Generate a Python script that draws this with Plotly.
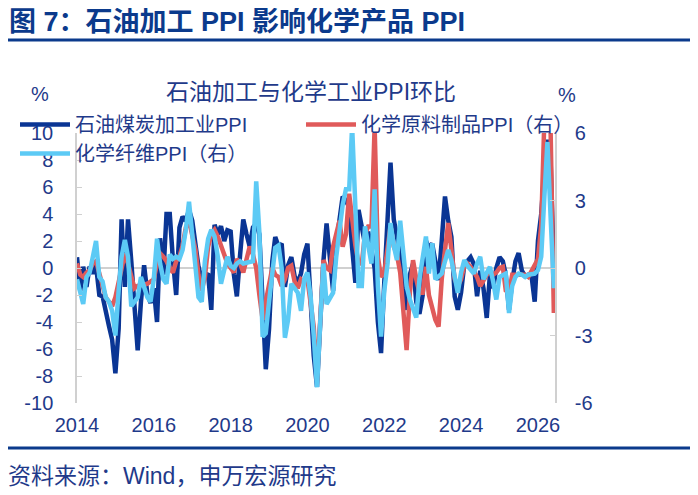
import pandas as pd
import plotly.graph_objects as go

# monthly, Jan 2014 .. Jun 2026
months = pd.date_range("2014-01-01", periods=150, freq="MS")

# 石油煤炭加工业PPI 环比 (%), left axis
petro = [
    0.8, -1.7, 0.1, -1.4, 0.1, -0.4, 0.2, -2.0, -2.1, -3.4, -4.3, -5.3,
    -7.8, -4.5, 3.6, -1.4, 3.6, 0.5, -3.1, -6.1, -2.5, 0.2, -1.9, -2.6,
    -1.5, -4.0, 2.2, -0.5, 4.0, 4.0, 0.6, -2.0, 3.0, 3.8, 3.5, 4.3,
    3.5, 1.5, 0.1, -0.9, -0.4, -0.5, -3.1, 3.2, 2.5, 3.1, 2.0, 2.8,
    2.7, -0.5, -2.1, 1.0, 3.6, 2.5, 1.6, 3.0, 3.3, 2.5, -3.4, -7.5,
    -4.5, 0.5, 2.3, 1.6, 1.8, -1.4, 0.2, 0.8, -0.6, -1.1, -0.4, 1.0,
    1.8, -2.0, -6.5, -8.8, -4.0, 0.5, 3.3, 1.0, -1.7, 1.8, 3.5, 5.3,
    5.0, 4.5, 1.5, -1.1, 4.3, 2.8, 1.8, 2.7, 1.5, 0.0, -4.0, -6.3,
    -1.0, 3.5, 7.8, 3.6, 2.3, 1.0, -1.5, -3.1, -0.5, 0.3, -2.5, -3.4,
    -2.0, 2.0, 1.5, 1.8, 0.5, -0.9, 2.0, 5.3, 3.5, 2.3, -2.1, -3.1,
    -1.8, 0.3, 0.5, 0.8, 0.3, -2.1, -0.2, -1.5, -3.7, -0.5, -1.5, 0.0,
    0.8, 0.5, -0.5, -3.1, -1.0, 0.5, 1.1, -0.2, -0.6, -0.5, -0.6, -2.5,
    2.0, 4.0, 7.0, 9.5, 8.0, 0.0,
]

# 化学原料制品PPI 环比 (%), right axis
chem = [
    0.2, -0.3, -0.4, -0.2, -0.1, 0.2, 0.3, -0.3, -0.8, -1.3, -1.5, -1.7,
    -1.3, -0.7, 0.0, 0.65, 0.2, -0.4, -0.9, -0.8, -0.8, -0.75, -0.7, -0.6,
    -0.5, 0.2, 0.65, 0.5, 0.3, 0.0, -0.2, 0.3, 0.5, 1.0, 1.8, 2.1,
    1.5, 0.8, -0.3, -1.0, -0.4, 0.95, 1.5, 1.7, 1.4, 1.0, 0.6, 0.2,
    0.0, -0.2, 0.4, 0.2, -0.2, 0.5, 0.95, 0.6, 0.0, -1.2, -2.3, -1.5,
    -0.8, 0.0, -0.3, -0.4, -0.8, -0.5, 0.0, 0.1, -0.6, -0.9, -0.5, -0.6,
    -0.5, -1.5, -2.6, -5.0, -2.0, 0.35, 0.0, -0.1, 0.95, 1.5, 2.1, 0.95,
    1.5, 3.3, 2.0, 1.0, 0.2, 0.2, 1.5, 1.85, 1.85, 6.3, 0.5, -0.4,
    -0.2, 1.0, 1.85, 0.95, 0.6, -0.2, -2.0, -3.65, -1.1, 0.35, -0.5, -1.1,
    -1.1, 0.05, -1.2, -1.8, -2.3, -2.6, -0.5, 0.8, 2.0, 0.8, -0.5, -0.8,
    -0.5, 0.1, 0.2, 0.05, -0.2, -0.4, -0.8, -0.5, -0.3, -0.2, -0.3, -0.2,
    0.0, 0.05, -1.0, -1.1, -0.3, -0.3, -0.3, -0.25, -0.3, -0.4, -0.1, 0.2,
    0.4, 1.9, 6.3, 6.8, 6.2, -2.0,
]

# 化学纤维PPI 环比 (%), right axis
fiber = [
    -0.5, -1.0, -1.6, -0.4, -0.2, 0.5, 1.2, -0.4, -0.6, -1.3, -1.5, -1.9,
    -3.0, -1.0, 0.5, 1.25, 0.5, -1.7, -1.5, -1.3, -0.4, -0.9, -1.3, -1.5,
    -0.5, 1.3, 0.2, -0.5, -0.7, 0.6, 0.4, 0.5, 0.4, 0.8, 1.7, 2.95,
    1.5, 0.0, -1.3, -1.5, 0.3, 1.3, 1.7, 1.4, 0.5, -0.7, 0.0, 0.5,
    0.1, 0.0, 0.2, 0.3, 0.2, 0.25, 0.3, 0.3, 3.85, 1.6, -3.05, -2.9,
    -1.5, 0.0, 0.9, 1.0, 0.0, -3.1, -2.3, -0.7, -0.9, -1.1, -1.9, -0.5,
    -0.2, -1.3, -3.0, -5.3, -2.5, 0.2, -1.6, -1.3, -1.1, 0.5, 1.85, 2.8,
    3.5, 3.5, 6.3, 2.1, -0.8, -0.8, 1.85, 1.0, 0.2, 3.5, -0.8, -3.05,
    -1.0, 0.2, 2.0, 1.0, 0.35, 2.1, 0.5, -0.8, -1.4, -1.8, -2.2, -0.5,
    0.5, 1.4, -0.25, 1.1, -0.5, -0.4, -0.25, 0.3, 0.8, 0.35, -0.5, -1.1,
    -0.2, 0.35, 0.1, -0.1, -0.25, 0.2, 0.5, -0.5, -0.2, 0.05, -0.6, -1.4,
    -0.4, -0.3, -0.25, -2.0, -0.8, -0.4, -0.25, -0.3, -0.4, -0.3, -0.25, -0.25,
    -0.1, 0.5, 3.0, 5.6, 2.3, -0.9,
]

left_ticks = list(range(-10, 11, 2))
right_ticks = [-6, -3, 0, 3, 6]
year_ticks = list(range(2014, 2027, 2))

NAVY = "#1f3a8a"
TITLE_BLUE = "#0b3a8c"
FONT = "Liberation Sans, Noto Sans CJK SC, sans-serif"
GRAY = "#d0d0d0"

# the page body has an 8px margin; figure sits at (8, 8)
W, H = 690, 487
PL, PT, PW, PH = 77, 133, 478, 270  # plot area in page pixels


def px(x):
    return (x - PL) / PW


def py(y):
    return (PT + PH - y) / PH


fig = go.Figure()
fig.add_trace(go.Scatter(x=months, y=petro, name="石油煤炭加工业PPI", legend="legend",
                         mode="lines", line=dict(color="#0a3594", width=4.5)))
fig.add_trace(go.Scatter(x=months, y=chem, name="化学原料制品PPI（右）", legend="legend2",
                         mode="lines", yaxis="y2", line=dict(color="#e05a5a", width=4.5)))
fig.add_trace(go.Scatter(x=months, y=fiber, name="化学纤维PPI（右）", legend="legend",
                         mode="lines", yaxis="y2", line=dict(color="#5ccaf5", width=4.5)))

legend_common = dict(orientation="v", xref="container", yref="container",
                     xanchor="left", yanchor="top", tracegroupgap=0,
                     itemwidth=50, bgcolor="rgba(0,0,0,0)",
                     font=dict(size=20, color=NAVY))

fig.update_layout(
    width=W, height=H,
    margin=dict(l=PL - 8, r=W - (PL - 8) - PW, t=PT - 8, b=H - (PT - 8) - PH,
                autoexpand=False),
    paper_bgcolor="white", plot_bgcolor="white",
    font=dict(family=FONT, color=NAVY, size=20),
    showlegend=True,
    legend=dict(x=7 / W, y=1 - 97 / H, **legend_common),
    legend2=dict(x=293 / W, y=1 - 97 / H, **legend_common),
    xaxis=dict(type="date", range=["2014-01-01", "2026-06-12"],
               tickvals=[f"{y}-01-01" for y in year_ticks],
               ticktext=[str(y) for y in year_ticks],
               showgrid=False, zeroline=False, showline=False, ticks="",
               ticklabelstandoff=8, tickfont=dict(size=20, color=NAVY)),
    xaxis2=dict(type="date", overlaying="x", matches="x", anchor="free",
                position=0.5, showticklabels=False, showgrid=False,
                showline=False, ticks="inside", ticklen=5, tickcolor=GRAY,
                tickvals=[f"{y}-01-01" for y in range(2015, 2027)]),
    yaxis=dict(range=[-10, 10], tickvals=left_ticks,
               ticktext=[str(v) for v in left_ticks], showgrid=False,
               zeroline=True, zerolinecolor=GRAY, zerolinewidth=1.5,
               showline=True, linecolor=GRAY, linewidth=1.5,
               ticks="inside", ticklen=5, tickcolor=GRAY,
               ticklabelstandoff=18, tickfont=dict(size=20, color=NAVY)),
    yaxis2=dict(range=[-6, 6], tickvals=right_ticks,
                ticktext=[str(v) for v in right_ticks], overlaying="y", side="right",
                showgrid=False, zeroline=False, showline=True,
                linecolor=GRAY, linewidth=1.5, ticks="inside", ticklen=5,
                tickcolor=GRAY, ticklabelstandoff=14,
                tickfont=dict(size=20, color=NAVY)),
)

fig.add_annotation(text="<b>图 7：石油加工 PPI 影响化学产品 PPI</b>",
                   xref="paper", yref="paper", x=px(7), y=py(22),
                   xanchor="left", yanchor="middle", showarrow=False,
                   font=dict(size=27, color=TITLE_BLUE))
fig.add_annotation(text="石油加工与化学工业PPI环比", xref="paper", yref="paper",
                   x=px(311), y=py(92), xanchor="center", yanchor="middle",
                   showarrow=False, font=dict(size=23, color=NAVY))
fig.add_annotation(text="%", xref="paper", yref="paper", x=px(40), y=py(94),
                   xanchor="center", yanchor="middle", showarrow=False,
                   font=dict(size=20, color=NAVY))
fig.add_annotation(text="%", xref="paper", yref="paper", x=px(567), y=py(95),
                   xanchor="center", yanchor="middle", showarrow=False,
                   font=dict(size=20, color=NAVY))
fig.add_annotation(text="资料来源：Wind，申万宏源研究", xref="paper", yref="paper",
                   x=px(6), y=py(476), xanchor="left", yanchor="middle",
                   showarrow=False, font=dict(size=23, color=NAVY))

# header and footer rules
for yy in (40, 448):
    fig.add_shape(type="line", xref="paper", yref="paper",
                  x0=px(0), x1=px(698), y0=py(yy), y1=py(yy),
                  line=dict(color=TITLE_BLUE, width=3))

fig.write_html("out.html")
